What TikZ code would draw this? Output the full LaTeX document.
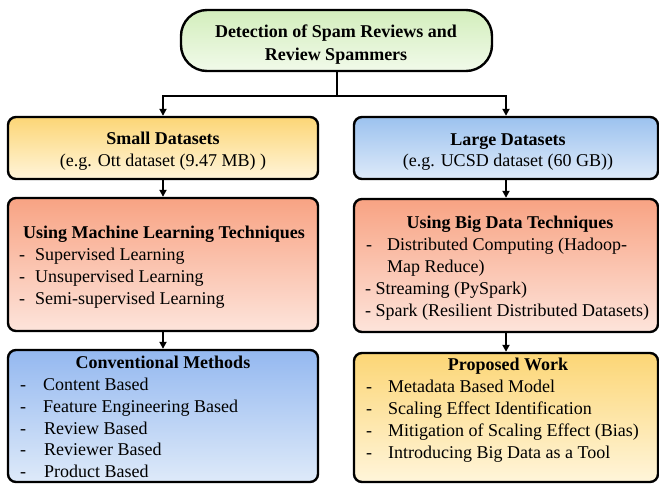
\documentclass[tikz,border=0pt]{standalone}
\usepackage{fontspec}
\setmainfont{Liberation Serif}
\usetikzlibrary{arrows.meta}
\definecolor{gTop}{HTML}{D3EEBC}\definecolor{gBot}{HTML}{F1FAEA}
\definecolor{yTop}{HTML}{FCD676}\definecolor{yBot}{HTML}{FFF5DA}
\definecolor{bTop}{HTML}{9CC2EF}\definecolor{bBot}{HTML}{DEEAF9}
\definecolor{sTop}{HTML}{F8A383}\definecolor{sBot}{HTML}{FDE4DB}
\tikzset{
  boxbase/.style={draw=black, line width=2.4pt, rounded corners=8pt, inner sep=0pt},
  greenbox/.style={boxbase, top color=gTop, bottom color=gBot},
  yellowbox/.style={boxbase, top color=yTop, bottom color=yBot},
  bluebox/.style={boxbase, top color=bTop, bottom color=bBot},
  salmonbox/.style={boxbase, top color=sTop, bottom color=sBot},
  txt/.style={inner sep=0pt, font=\fontsize{18}{22}\selectfont},
  head/.style={txt, anchor=base, font=\fontsize{18}{22}\selectfont\bfseries},
  item/.style={txt, anchor=base west},
  conn/.style={line width=2pt, draw=black},
  arr/.style={conn, -{Triangle[length=7pt,width=7pt]}}
}
\newcommand{\dsh}[1]{\makebox[#1][l]{-}}
\begin{document}
\begin{tikzpicture}[x=1pt,y=-1pt]
\useasboundingbox (0,0) rectangle (659,483);
% boxes
\node[greenbox, rounded corners=26pt, minimum width=311pt, minimum height=61pt] (top) at (336.5,40.5) {};
\node[yellowbox, minimum width=310pt, minimum height=62pt] (small) at (163,148) {};
\node[bluebox, minimum width=304pt, minimum height=62pt] (large) at (506,148) {};
\node[salmonbox, minimum width=310pt, minimum height=133pt] (ml) at (163,264.5) {};
\node[salmonbox, minimum width=304pt, minimum height=133pt] (big) at (506,265.5) {};
\node[bluebox, top color=bTop!95!blue, minimum width=310pt, minimum height=132pt] (conv) at (163,416) {};
\node[yellowbox, minimum width=304pt, minimum height=129pt] (prop) at (506,417.5) {};
% connectors
\draw[conn] (top.south) -- ++(0,23.5) coordinate (junc);
\draw[arr] (junc) -| (small.north);
\draw[arr] (junc) -| (large.north);
\draw[arr] (small.south) -- (ml.north);
\draw[arr] (ml.south) -- (conv.north);
\draw[arr] (large.south) -- (big.north);
\draw[arr] (big.south) -- (prop.north);
% top text
\node[head] (ta) at (336,37) {Detection of Spam Reviews and};
\node[head] (tb) at (336,60) {Review Spammers};
% small
\node[head] (sa) at (163,144) {Small Datasets};
\node[txt, anchor=base] (sb) at (163,166) {(e.g. Ott dataset (9.47 MB) )};
% large
\node[head] (la) at (508,145) {Large Datasets};
\node[txt, anchor=base] (lb) at (508,166) {(e.g. UCSD dataset (60 GB))};
% ML
\node[head] (ma) at (164,238) {Using Machine Learning Techniques};
\node[item] (m1) at (19,260) {\dsh{16pt}Supervised Learning};
\node[item] (m2) at (19,282) {\dsh{16pt}Unsupervised Learning};
\node[item] (m3) at (19,304) {\dsh{16pt}Semi-supervised Learning};
% Big data
\node[head] (ba) at (510,228) {Using Big Data Techniques};
\node[item] (b1) at (366,250) {\dsh{21pt}Distributed Computing (Hadoop-};
\node[item] (b2) at (387,272) {Map Reduce)};
\node[item] (b3) at (365,294) {- Streaming (PySpark)};
\node[item] (b4) at (365,316) {- Spark (Resilient Distributed Datasets)};
% conventional
\node[head] (ca) at (163,368) {Conventional Methods};
\node[item] (c1) at (20,390) {\dsh{23pt}Content Based};
\node[item] (c2) at (20,412) {\dsh{23pt}Feature Engineering Based};
\node[item] (c3) at (20,434) {\dsh{24pt}Review Based};
\node[item] (c4) at (20,455) {\dsh{24pt}Reviewer Based};
\node[item] (c5) at (20,477) {\dsh{24pt}Product Based};
% proposed
\node[head] (pa) at (508,370) {Proposed Work};
\node[item] (p1) at (366,392) {\dsh{22pt}Metadata Based Model};
\node[item] (p2) at (366,414) {\dsh{22pt}Scaling Effect Identification};
\node[item] (p3) at (366,436) {\dsh{22pt}Mitigation of Scaling Effect (Bias)};
\node[item] (p4) at (366,458) {\dsh{22pt}Introducing Big Data as a Tool};
\end{tikzpicture}
\end{document}
